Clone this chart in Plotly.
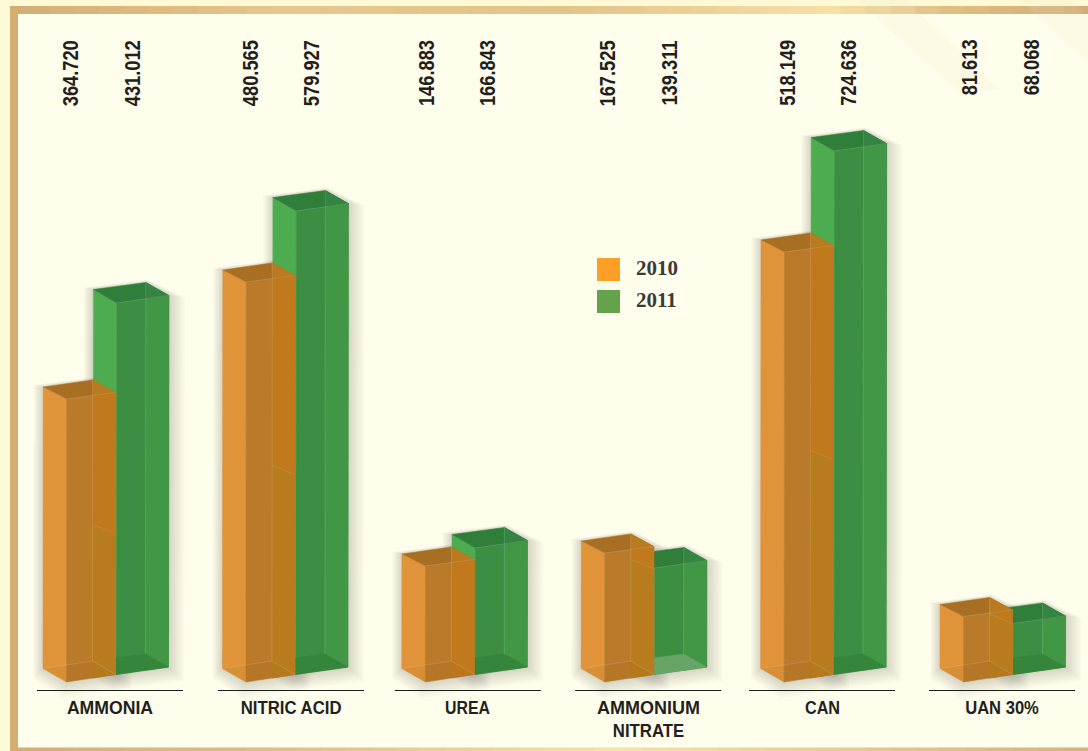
import plotly.graph_objects as go

# ---- data -----------------------------------------------------------------
categories = ["AMMONIA", "NITRIC ACID", "UREA", "AMMONIUM<br>NITRATE", "CAN", "UAN 30%"]
labels_2010 = ["364.720", "480.565", "146.883", "167.525", "518.149", "81.613"]
labels_2011 = ["431.012", "579.927", "166.843", "139.311", "724.636", "68.068"]
# bar heights as drawn in the picture (they do not follow the printed labels exactly)
heights_2010 = [283, 400, 116, 129, 430, 65.5]
heights_2011 = [371.5, 463.5, 126.5, 106.5, 523.5, 51]
# height of the lower tint band seen through the 2010 box
tint_2010 = [141, 200, 0, 106, 215, 51]
series_names = ["2010", "2011"]

# ---- layout constants -----------------------------------------------------
W, H = 1088, 751
GROUP = 179.4       # px per category
X0 = 43             # px of the first box's left vertex
BASE = 682          # px of the baseline
LEAN = 0.001

def gx(i, dx=0.0):
    return i + dx / GROUP

def py(p):          # page pixel -> paper y
    return 1 - p / H

def px(p):
    return p / W

x_range = [-X0 / GROUP, (W - X0) / GROUP]
y_range = [BASE - H, BASE]

BOX_2010 = dict(L=(0, 13.5), F=(23.5, 0), R=(72.5, 7.5), B=(49.5, 21))
BOX_2011 = dict(L=(50, 21), F=(73.5, 7.5), R=(125.5, 15), B=(102.5, 28))
TOP_ADJ_2010 = dict(L=-1.5, F=0, R=-1, B=-2)
TOP_ADJ_2011 = dict(L=0, F=0, R=0, B=0)

ORANGE = dict(left="#E09338", front="#B97A2A", side="#C0791C", low="#B87C1E",
              top="#A86F22", top2="#BA7A1F")
GREEN = dict(left="#4EAC50", front="#3C8F42", side="#419745", top="#2F7F3A",
             top2="#348543", bottom="#35863A")

fig = go.Figure()

def poly(i, pts, color, line=None):
    xs = [gx(i, p[0]) for p in pts] + [gx(i, pts[0][0])]
    ys = [p[1] for p in pts] + [pts[0][1]]
    fig.add_trace(go.Scatter(
        x=xs, y=ys, mode="lines", fill="toself", fillcolor=color,
        line=dict(width=0.5, color=color) if line is None else line,
        hoverinfo="skip", showlegend=False))

def edge(i, a, b, color="rgba(255,255,255,0.17)"):
    fig.add_trace(go.Scatter(
        x=[gx(i, a[0]), gx(i, b[0])], y=[a[1], b[1]], mode="lines",
        line=dict(width=0.8, color=color), hoverinfo="skip", showlegend=False))

def verts(box, h, adj):
    lean = h * LEAN
    bot = {k: v for k, v in box.items()}
    top = {k: (v[0] + lean, v[1] + h + adj[k]) for k, v in box.items()}
    return bot, top

def shadow(i, box, h, adj):
    b, t = verts(box, h, adj)
    for e in (20, 18, 16, 14, 12, 10, 8, 6, 4, 2):
        pts = [
            (b["L"][0] - e * 0.5, b["L"][1] - e * 0.5),
            (b["F"][0] - e * 0.2, b["F"][1] - e * 0.8),
            (b["R"][0] + e * 0.8, b["R"][1] - e * 0.7),
            (t["R"][0] + e * 0.8, t["R"][1] - e * 0.1),
            (t["B"][0] + e * 0.1, t["B"][1] + e * 0.15),
            (t["L"][0] - e * 0.5, t["L"][1] + e * 0.1),
        ]
        poly(i, pts, "rgba(60,62,30,0.02)", line=dict(width=0))

def at_x(a, b, x):
    f = (x - a[0]) / (b[0] - a[0])
    return (x, a[1] + f * (b[1] - a[1]))

def green_box(i, h):
    b, t = verts(BOX_2011, h, TOP_ADJ_2011)
    poly(i, [b["L"], b["F"], t["F"], t["L"]], GREEN["left"])
    poly(i, [b["F"], b["R"], t["R"], t["F"]], GREEN["front"])
    m_t = at_x(t["F"], t["R"], t["B"][0])
    m_b = at_x(b["F"], b["R"], b["B"][0])
    poly(i, [m_b, b["R"], t["R"], m_t], GREEN["side"])
    poly(i, [t["L"], t["F"], t["R"], t["B"]], GREEN["top"])
    poly(i, [t["B"], m_t, t["R"]], GREEN["top2"])
    floor = "#66A566" if categories[i].startswith("AMMONIUM") else GREEN["bottom"]
    poly(i, [b["L"], b["F"], b["R"], b["B"]], floor)
    edge(i, t["B"], b["B"])
    edge(i, t["F"], t["R"])
    edge(i, t["L"], b["L"], "rgba(255,255,255,0.12)")

def orange_box(i, h, tint):
    b, t = verts(BOX_2010, h, TOP_ADJ_2010)
    poly(i, [b["L"], b["F"], t["F"], t["L"]], ORANGE["left"])
    poly(i, [b["F"], b["R"], t["R"], t["F"]], ORANGE["front"])
    m_t = at_x(t["F"], t["R"], t["B"][0])
    m_b = at_x(b["F"], b["R"], b["B"][0])
    poly(i, [m_b, b["R"], t["R"], m_t], ORANGE["side"])
    if tint > 0:
        poly(i, [m_b, b["R"], (b["R"][0], b["R"][1] + tint),
                 (m_b[0], m_b[1] + tint + 12.5)], ORANGE["low"])
        edge(i, (m_b[0], m_b[1] + tint + 12.5), (b["R"][0], b["R"][1] + tint),
             "rgba(255,255,255,0.12)")
    poly(i, [t["L"], t["F"], t["R"], t["B"]], ORANGE["top"])
    poly(i, [t["B"], m_t, t["R"]], ORANGE["top2"])
    poly(i, [b["L"], b["F"], b["R"], b["B"]], "rgba(150,95,20,0.10)", line=dict(width=0))
    edge(i, t["B"], b["B"])
    edge(i, t["F"], t["R"])
    edge(i, t["L"], t["F"], "rgba(255,255,255,0.08)")
    edge(i, b["L"], b["B"])
    edge(i, b["B"], b["R"])

# ---- boxes ----------------------------------------------------------------
for i in range(len(categories)):
    shadow(i, BOX_2011, heights_2011[i], TOP_ADJ_2011)
    shadow(i, BOX_2010, heights_2010[i], TOP_ADJ_2010)
    green_box(i, heights_2011[i])
    orange_box(i, heights_2010[i], tint_2010[i])

# ---- baseline rules and labels --------------------------------------------
RULE_CENTER = [67, 68.5, 66, 67, 61.5, 62]
LABEL_DX_2010 = [28, 28.5, 25, 27, 27, 29]
LABEL_DX_2011 = [90, 89.5, 86, 89, 88, 91]
annotations = []
for i, cat in enumerate(categories):
    c = RULE_CENTER[i]
    fig.add_trace(go.Scatter(
        x=[gx(i, c - 73), gx(i, c + 73)], y=[BASE - 690.5, BASE - 690.5], mode="lines",
        line=dict(color="#1d1d1b", width=1.1), hoverinfo="skip", showlegend=False))
    annotations.append(dict(
        x=gx(i, c), xref="x", y=py(696), yref="paper", yanchor="top", xanchor="center",
        text="<b>%s</b>" % cat, showarrow=False, align="center",
        font=dict(family="Liberation Sans", size=18, color="#231f20")))
    for dx, lab in ((LABEL_DX_2010[i], labels_2010[i]), (LABEL_DX_2011[i], labels_2011[i])):
        yc = 73 if len(lab) == 7 else 68
        annotations.append(dict(
            x=gx(i, dx), xref="x", y=py(yc), yref="paper", yanchor="middle", xanchor="center",
            text="<b>%s</b>" % lab, textangle=-90, showarrow=False,
            font=dict(family="Liberation Sans", size=22, color="#231f20")))

# ---- legend ---------------------------------------------------------------
legend_colors = ["#FF9F27", "#64A24E"]
for k, (name, colr) in enumerate(zip(series_names, legend_colors)):
    yc = 269.5 + 32 * k
    fig.add_trace(go.Scatter(
        x=[gx(0, 608.5 - X0)], y=[BASE - yc], mode="markers",
        marker=dict(symbol="square", size=23, color=colr, line=dict(width=0)),
        name=name, hoverinfo="skip", showlegend=False))
    annotations.append(dict(
        x=px(634), xref="paper", y=py(yc - 1.5), yref="paper", xanchor="left", yanchor="middle",
        text="<b>%s</b>" % name, showarrow=False,
        font=dict(family="Liberation Serif", size=21, color="#3a3a3a")))

# ---- page frame -----------------------------------------------------------
def lerp_hex(a, b, f):
    ca = [int(a[j:j + 2], 16) for j in (1, 3, 5)]
    cb = [int(b[j:j + 2], 16) for j in (1, 3, 5)]
    return "rgb(%d,%d,%d)" % tuple(round(u + (v - u) * f) for u, v in zip(ca, cb))

def band(stops, y0, y1, n=44):
    out = []
    for s in range(n):
        a, b = s * W / n, (s + 1) * W / n
        m = (a + b) / 2
        for (p0, c0), (p1, c1) in zip(stops, stops[1:]):
            if p0 <= m <= p1:
                col = lerp_hex(c0, c1, (m - p0) / (p1 - p0))
                break
        out.append(dict(type="rect", xref="paper", yref="paper", layer="below",
                        x0=px(max(a, 10)), x1=px(b + 0.5), y0=py(y1), y1=py(y0),
                        fillcolor=col, line=dict(width=0)))
    return out

TOP_STOPS = [(0, "#D2AE74"), (300, "#E6C78D"), (560, "#E2C388"), (830, "#F6DFA6"),
             (960, "#DDBC82"), (1088, "#D2AE74")]
BOT_STOPS = [(0, "#D2AE74"), (250, "#DDBC82"), (620, "#F7E1A9"), (900, "#E3C58C"),
             (1088, "#D5B27A")]

shapes = [
    dict(type="rect", xref="paper", yref="paper", layer="below", x0=0, x1=1, y0=0, y1=1,
         fillcolor="#FFF9D6", line=dict(width=0)),
    dict(type="rect", xref="paper", yref="paper", layer="below", x0=px(18), x1=1,
         y0=py(747.5), y1=py(14), fillcolor="#FFFDEB", line=dict(width=0)),
    dict(type="rect", xref="paper", yref="paper", layer="below", x0=px(10), x1=px(18),
         y0=py(751), y1=py(6), fillcolor="#D2AE74", line=dict(width=0)),
]
shapes += band(TOP_STOPS, 6, 14)
shapes += band(BOT_STOPS, 747.5, 751)
for a, b, c, d in [((858, 0), (905, 0), (1000, 90), (957, 90)),
                   ((1020, 0), (1070, 0), (1088, 18), (1088, 62))]:
    path = "M %f %f L %f %f L %f %f L %f %f Z" % (
        px(a[0]), py(a[1]), px(b[0]), py(b[1]), px(c[0]), py(c[1]), px(d[0]), py(d[1]))
    shapes.append(dict(type="path", xref="paper", yref="paper", layer="below", path=path,
                       fillcolor="rgba(232,226,196,0.14)", line=dict(width=0)))

fig.update_layout(
    width=W, height=H, margin=dict(l=0, r=0, t=0, b=0),
    paper_bgcolor="#FFFDEB", plot_bgcolor="rgba(0,0,0,0)",
    showlegend=False, shapes=shapes, annotations=annotations,
    xaxis=dict(range=x_range, visible=False, fixedrange=True),
    yaxis=dict(range=y_range, visible=False, fixedrange=True),
)

# page reset, and condense the label glyphs (no narrow face is installed)
POST = """
document.documentElement.style.margin='0';
document.documentElement.style.overflow='hidden';
document.body.style.margin='0';
document.body.style.overflow='hidden';
var SQ = {'AMMONIA':0.98,'NITRIC ACID':0.93,'UREA':0.88,'AMMONIUM':1,'NITRATE':0.93,'CAN':0.9,'UAN 30%':0.92};
function squeeze(){
  document.querySelectorAll('.annotation-text').forEach(function(t){
    var nodes = t.querySelectorAll('tspan.line');
    var list = nodes.length ? Array.from(nodes) : [t];
    list.forEach(function(n){
      if (n.dataset && n.dataset.sq) return;
      var s = n.textContent;
      var f = /^[0-9.]+$/.test(s) ? (s.length>4 ? 0.83 : 1) : (SQ[s]||1);
      if (f===1) return;
      var L = n.getComputedTextLength();
      n.setAttribute('textLength', L*f);
      n.setAttribute('lengthAdjust','spacingAndGlyphs');
      if (n.dataset) n.dataset.sq='1';
    });
  });
}
squeeze(); setTimeout(squeeze,50); setTimeout(squeeze,300);
"""
fig.write_html("out.html", config=dict(displayModeBar=False, responsive=False), post_script=POST)
